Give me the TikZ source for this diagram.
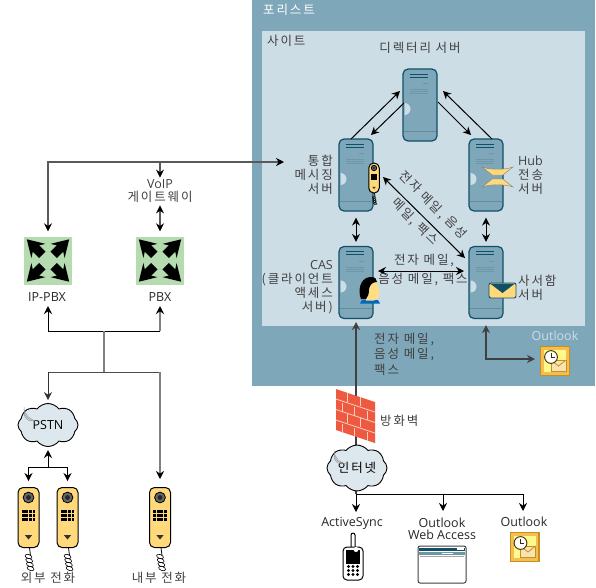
\documentclass[tikz,border=0pt]{standalone}
\usepackage{fontspec}
\setmainfont{Noto Sans CJK KR}
\newfontfamily\kr[LetterSpace=15]{Noto Sans CJK KR}
\newfontfamily\lat{Open Sans}
\usetikzlibrary{arrows.meta,positioning,shapes,calc}
\definecolor{forestblue}{RGB}{127,167,186}
\definecolor{sitegray}{RGB}{205,221,230}
\definecolor{servedge}{RGB}{15,80,104}
\definecolor{phoneyellow}{RGB}{255,217,122}
\definecolor{pbxgreen}{RGB}{181,219,176}
\definecolor{wallred}{RGB}{238,90,64}
\definecolor{goldicon}{RGB}{240,192,84}
\definecolor{goldedge}{RGB}{201,143,26}
\definecolor{cloudfill}{RGB}{221,231,238}
\tikzset{
  lbl/.style={font=\fontsize{12.5}{14}\selectfont\kr, text=black!75, inner sep=0pt},
  latlbl/.style={font=\fontsize{12.5}{12}\selectfont\lat, text=black!85, inner sep=0pt},
  link/.style={black, line width=1pt, -{Stealth[length=8pt,width=8pt]}},
  link2/.style={link, {Stealth[length=8pt,width=8pt]}-{Stealth[length=8pt,width=8pt]}},
  plain/.style={black, line width=1pt},
  grayline/.style={black!50, line width=1.6pt},
  server/.style={draw=servedge, fill=forestblue, line width=1.2pt, rounded corners=5pt,
    minimum width=34pt, minimum height=72pt, inner sep=0pt},
  pbx/.style={fill=pbxgreen, minimum width=48pt, minimum height=48pt, inner sep=0pt},
  netcloud/.style={cloud, cloud puffs=8, cloud puff arc=105, aspect=1.4, draw=black, fill=cloudfill,
    line width=0.9pt, minimum width=60pt, minimum height=43pt, inner sep=0pt},
  pics/handset/.style={code={
    \node[draw=black, fill=phoneyellow, line width=1pt, rounded corners=5pt, transform shape,
      minimum width=21pt, minimum height=60pt, inner sep=0pt] (-body) at (0,0) {};
    \draw[line width=0.8pt] (1,30) -- (2,38);
    \foreach \k in {0,1,2,3} {
      \draw[line width=0.6pt, rotate around={-20:(\k*0.7,39+\k*4)}] (\k*0.7,39+\k*4) ellipse (3.6 and 2);
    }
    \draw[fill=black!60, line width=0.8pt] (0,-20) circle (5.4);
    \fill[black!85] (0,-20) circle (2.4);
    \foreach \cx in {-5.4,-1.8,1.8,5.4} {
      \foreach \cy in {-6,-2.2,1.6} {
        \fill[black] (\cx-1.4,\cy-1.4) rectangle (\cx+1.4,\cy+1.4);
      }
    }
    \fill[black!80] (-3.6,17.6) -- (3.6,17.6) -- (0,22) -- cycle;
  }},
  pics/mailicon/.style={code={
    \fill[goldicon] (-15,-15) rectangle (15,15);
    \draw[goldedge, line width=1.4pt] (-14.3,-14.3) rectangle (14.3,14.3);
    \fill[yellow!45!white] (-11,-11) rectangle (11,11);
    \draw[goldedge, fill=goldicon!45!white, line width=0.8pt] (-4,-1) rectangle (11,10);
    \draw[goldedge, line width=0.8pt] (-4,-1) -- (3.5,5) -- (11,-1);
    \draw[black!60!goldedge, fill=white, line width=1pt] (-4,-4) circle (6.4);
    \draw[black!70!goldedge, line width=0.9pt] (-4,-8) -- (-4,-4) -- (-0.5,-4);
  }},
  pics/pbxarrows/.style={code={
    \foreach \a in {45,135,225,315} {
      \fill[black, rotate=\a] (8,-4.5) -- (17,-4.5) -- (13.5,-10) -- (30,0) -- (13.5,10) -- (17,4.5) -- (8,4.5) -- cycle;
    }
  }},
}
\begin{document}
\begin{tikzpicture}[x=1pt, y=-1pt]
\useasboundingbox (0,0) rectangle (596,587);

% Forest and site
\node[fill=forestblue, minimum width=343pt, minimum height=386pt, inner sep=0pt] (forest) at (423.5,193) {};
\node[fill=sitegray, minimum width=323pt, minimum height=295pt, inner sep=0pt] (site) at (423.5,178.5) {};
\node[lbl, text=white, anchor=west] (forestLabel) at (263,10) {포리스트};
\node[lbl, anchor=west] (siteLabel) at (267,41) {사이트};

% Servers
\node[server] (dir) at (420,105) {};
\node[server] (um) at (356,175) {};
\node[server] (hub) at (486,175) {};
\node[server] (cas) at (356,282.5) {};
\node[server] (mbx) at (486,282.5) {};
\foreach \s in {dir,um,hub,cas,mbx} {
  \begin{scope}[shift={(\s)}]
    \draw[servedge, line width=0.9pt] (-10,-31) -- (8,-31);
    \draw[servedge, line width=0.9pt] (-10,-28) -- (8,-28);
    \draw[servedge!60, line width=0.6pt] (3,-21.5) -- (8,-21.5);
    \foreach \yy in {-15.5,-13.5,-11.5} {
      \draw[servedge!60, line width=0.5pt] (-10,\yy) -- (8,\yy);
    }
    \fill[sitegray] (-15.5,10) arc[start angle=90, end angle=-90, radius=6];
    \draw[servedge!65, line width=0.5pt] (-16,26) -- (16,26);
  \end{scope}
}
\node[lbl] (dirLabel) at (420,48) {디렉터리 서버};
\node[lbl, anchor=east, align=right] (umLabel) at (333,175) {통합\\메시징\\서버};
\node[lbl, anchor=west, align=left] (hubLabel) at (518,175) {{\lat Hub}\\전송\\서버};
\node[lbl, anchor=east, align=right] (casLabel) at (333,287) {{\lat CAS}\\(클라이언트\\액세스\\서버)};
\node[lbl, anchor=west, align=left] (mbxLabel) at (518,288) {사서함\\서버};

% Icons on the servers
\pic[scale=0.5] (umPhone) at (374,178) {handset};
\draw[black!50, fill=phoneyellow, line width=0.4pt] (482,167) .. controls (490,170) and (505,170) .. (513,167)
  .. controls (508,171) and (505,173) .. (503,175) -- (492,175) .. controls (490,173) and (487,171) .. (482,167) -- cycle;
\draw[black!50, fill=phoneyellow, line width=0.4pt] (492,179) -- (503,179) .. controls (505,181) and (508,183) .. (513,187)
  .. controls (505,184) and (490,184) .. (482,187) .. controls (487,183) and (490,181) .. (492,179) -- cycle;
\node[draw=servedge, fill=phoneyellow, line width=0.9pt, rounded corners=2pt, minimum width=27pt,
  minimum height=15pt, inner sep=0pt] (envelope) at (502.5,290.5) {};
\fill[servedge] (490,283.5) -- (515,283.5) -- (502.5,293) -- cycle;
% person
\fill[blue!45!cyan!75!black] (360,303.5) -- (362,300) -- (378,300) -- (380,303.5) -- cycle;
\fill[phoneyellow!90!white] (367,282) -- (377,282) -- (379.5,291) -- (378,298) -- (374,300.5) -- (366,300.5) -- cycle;
\fill[black] (360,296) .. controls (358,285) and (363,277) .. (371,277) .. controls (375,277) and (377,279) .. (377,282)
  .. controls (373,282) and (370,284) .. (369,289) .. controls (369,294) and (368,297) .. (366,299) -- (361,299) -- cycle;

% Site links
\coordinate (dirA) at (400,91);
\coordinate (umA) at (351,139);
\coordinate (dirB) at (404,103);
\coordinate (umB) at (371,135);
\coordinate (dirC) at (438,102);
\coordinate (hubC) at (471,135);
\coordinate (hubD) at (492,139);
\coordinate (dirD) at (443,91);
\draw[link] (umA) -- (dirA);
\draw[link] (dirB) -- (umB);
\draw[link] (dirC) -- (hubC);
\draw[link] (hubD) -- (dirD);
\draw[link2, shorten <=6pt, shorten >=4pt] (um.south) -- (cas.north);
\draw[link2, shorten <=6pt, shorten >=4pt] (hub.south) -- (mbx.north);
\coordinate (diagA) at (383,177);
\coordinate (diagB) at (465,258);
\draw[link2] (diagA) -- (diagB);
\coordinate (casMail) at (378,271);
\coordinate (mbxMail) at (464,271);
\draw[link2] (casMail) -- (mbxMail);
\node[lbl, rotate=-45] (diagTop) at (433,205) {전자 메일, 음성};
\node[lbl, rotate=-45] (diagLow) at (415,222) {메일, 팩스};
\node[lbl] (mailTop) at (424,261) {전자 메일,};
\node[lbl] (mailLow) at (423,280) {음성 메일, 팩스};

% Outlook in the forest
\node[latlbl, text=sitegray] (olTopLabel) at (555,336) {Outlook};
\pic (olTop) at (555,361) {mailicon};
\coordinate (olTopTip) at (535,359);
\draw[black!75, line width=1.3pt, {Stealth[length=8pt,width=8pt]}-{Stealth[length=8pt,width=8pt]}, shorten <=6pt]
  (mbx.south) |- (olTopTip);
\node[lbl, anchor=west, align=left, font=\fontsize{12.5}{15.5}\selectfont\kr] (forestMail) at (374,354) {전자 메일,\\음성 메일,\\팩스};

% Voice side
\node[lbl, align=center, font=\fontsize{12.5}{12.5}\selectfont\kr] (voip) at (160,191) {{\lat VoIP}\\게이트웨이};
\node[pbx] (ipbx) at (48,260.5) {};
\node[pbx] (pbxB) at (160,260.5) {};
\pic at (ipbx) {pbxarrows};
\pic at (pbxB) {pbxarrows};
\node[latlbl] (ipbxLabel) at (47,297) {IP-PBX};
\node[latlbl] (pbxLabel) at (160,297) {PBX};
\coordinate (umIn) at (284,162);
\coordinate (trunkL) at (48,162);
\coordinate (trunkM) at (160,162);
\draw[black!65, line width=1.1pt, {Stealth[length=8pt,width=8pt,black]}-{Stealth[length=8pt,width=8pt,black]}, shorten >=5pt]
  (umIn) -- (trunkL) -- (ipbx.north);
\draw[black!65, line width=1.1pt, -{Stealth[length=8pt,width=8pt,black]}] (trunkM) -- ([yshift=2pt]voip.north);
\draw[black!65, line width=1.1pt, {Stealth[length=8pt,width=8pt,black]}-{Stealth[length=8pt,width=8pt,black]}, shorten <=3pt, shorten >=5pt] (voip.south) -- (pbxB.north);
\coordinate (ipbxFoot) at (48,306);
\coordinate (pbxFoot) at (160,306);
\coordinate (footL) at (48,331);
\coordinate (footR) at (160,331);
\coordinate (footMid) at (104,331);
\coordinate (branch) at (104,372);
\coordinate (branchL) at (48,372);
\coordinate (branchR) at (160,372);
\draw[link] (footL) -- (ipbxFoot);
\draw[plain] (footL) -- (footR);
\draw[black!50, line width=1.6pt, -{Stealth[length=8pt,width=8pt,black]}] (footR) -- (pbxFoot);
\draw[grayline] (footMid) -- (branch);
\draw[plain, black!70] (branchL) -- (branchR);

% PSTN and phones
\node[netcloud, font=\fontsize{12.5}{12}\selectfont\lat] (pstn) at (48,425) {PSTN};
\foreach \r in {8,11,14} {
  \draw[black!45, line width=0.4pt] (24,421) ++(-90:\r) arc[start angle=180, end angle=90, radius=\r];
}
\pic (extA) at (28.5,517.5) {handset};
\pic (extB) at (67.5,517.5) {handset};
\pic (inner) at (160,517.5) {handset};
\coordinate (pstnJoin) at (48,467);
\draw[link, black!80] (branchL) -- ([yshift=3pt]pstn.north);
\draw[link] (pstnJoin) -- (48,450) coordinate (pstnFoot);
\draw[link] (pstnJoin) -| ([yshift=6pt]extA-body.north);
\draw[link] (pstnJoin) -| ([yshift=6pt]extB-body.north);
\draw[black!50, line width=1.6pt, -{Stealth[length=8pt,width=8pt,black]}, shorten >=8pt] (branchR) -- (inner-body.north);
\node[lbl] (extLabel) at (48,578) {외부 전화};
\node[lbl] (innerLabel) at (159,578) {내부 전화};

% Internet side
\coordinate (inetJoin) at (356,494);
\coordinate (asTip) at (356,512);
\coordinate (casFoot) at (356,322);
\draw[link, black!75, line width=1.3pt] (inetJoin) -- (casFoot);
\draw[link] (inetJoin) -- (asTip);
\node[netcloud, font=\fontsize{12.5}{12}\selectfont\kr] (inet) at (357,468) {인터넷};
\foreach \r in {8,11,14} {
  \draw[black!45, line width=0.4pt] (334,464) ++(-90:\r) arc[start angle=180, end angle=90, radius=\r];
}
% firewall
\fill[wallred] (336,389) -- (375,402) -- (375,443) -- (336,430) -- cycle;
\foreach \b in {0,1,2} {
  \draw[white!70!wallred, line width=0.8pt] (336,399+\b*10.5) -- (375,412+\b*10.5);
}
\foreach \vx/\vy in {347/393,360/397,342/403,354/407,367/411,347/414,360/418,342/424,354/428,367/432} {
  \draw[white!70!wallred, line width=0.8pt] (\vx,\vy) -- (\vx,\vy+9);
}
\node[lbl, anchor=west] (wallLabel) at (380,421) {방화벽};
\coordinate (owaJoin) at (443,494);
\coordinate (owaTip) at (443,511);
\coordinate (olJoin) at (523,494);
\coordinate (olTip) at (523,511);
\draw[plain] (inetJoin) -- (olJoin);
\draw[link] (owaJoin) -- (owaTip);
\draw[link] (olJoin) -- (olTip);
\node[latlbl] (asLabel) at (352,523) {ActiveSync};
\node[latlbl, align=center] (owaLabel) at (442,529) {Outlook\\Web Access};
\node[latlbl] (olLabel) at (524,522) {Outlook};
\pic (olBottom) at (524.5,547) {mailicon};
% mobile
\draw[black, fill=white, line width=1pt] (351,548) -- (351,535) .. controls (351,532.5) and (355,532.5) .. (355,535) -- (355,548);
\node[draw=black, fill=white, line width=1pt, rounded corners=4pt, minimum width=20pt, minimum height=33pt,
  inner sep=0pt] (mobile) at (353,563.5) {};
\fill[black] (346,550) -- (360,550) -- (360,564) -- (346,564) -- cycle;
\fill[white] (356,549.5) circle (2.5);
\foreach \cx in {-4.5,0,4.5} {
  \foreach \cy in {566.5,570.5,574.5} {
    \fill[black] (353+\cx,\cy) circle (1.6);
  }
}
% browser window
\node[draw=black!75, fill=white, line width=1pt, rounded corners=2pt, minimum width=48pt, minimum height=37pt,
  inner sep=0pt] (window) at (442,564.5) {};
\fill[servedge] (419,547.5) rectangle (465,551);
\fill[servedge!60] (419,552) rectangle (465,554.5);
\fill[white] (442,552.5) rectangle (453,554);
\fill[white] (457,548.2) rectangle (464,550.2);
\draw[black!35, line width=0.5pt] (420,556) -- (464,556);
\end{tikzpicture}
\end{document}
